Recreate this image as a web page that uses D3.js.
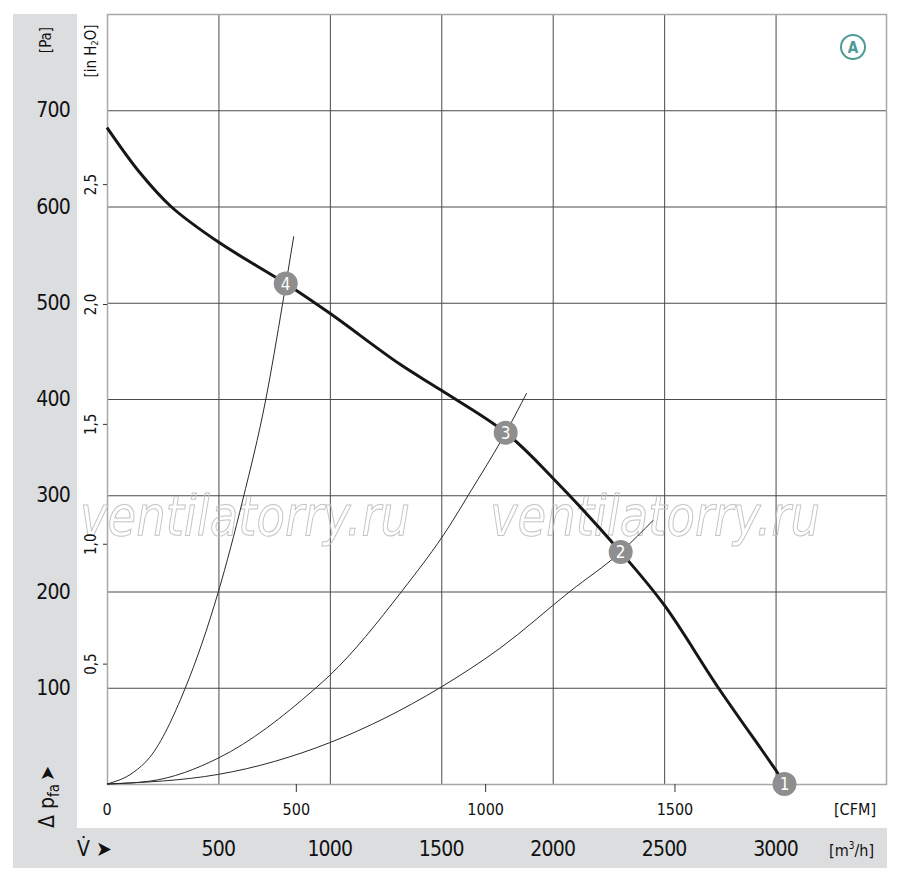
<!DOCTYPE html>
<meta charset="utf-8">
<style>
  body { margin: 0; background: #fff; }
  svg text { font-family: "Liberation Sans Narrow", "DejaVu Sans Condensed", "Roboto", sans-serif; fill: #111; }
</style>
<script src="https://d3js.org/d3.v7.min.js"></script>
<div id="chart"></div>
<script>

    // fan curve (flow in m3/h, pressure in Pa)
    var fanFlow     = [0, 148, 287, 500, 802, 1000, 1315, 1500, 1789, 2000, 2305, 2500, 2743, 3005, 3040];
    var fanPressure = [682, 635, 600, 563, 520, 489, 436, 409, 365, 318, 241, 186, 100, 13, 0];

    // system curves
    var sys4Flow = [0, 118, 193, 350, 500, 609, 712, 788, 838];
    var sys4P    = [0, 12, 28, 99, 200, 295, 399, 499, 569];
    var sys3Flow = [0, 193, 500, 933, 1000, 1322, 1539, 1621, 1789, 1883];
    var sys3P    = [0, 3, 27, 99, 113, 200, 269, 300, 365, 406];
    var sys2Flow = [0, 500, 1000, 1494, 1763, 2077, 2305, 2451];
    var sys2P    = [0, 10, 43, 100, 141, 200, 241, 274];

    // operating points
    var pointLabels = ["1", "2", "3", "4"];
    var pointFlow   = [3040, 2305, 1789, 802];
    var pointP      = [0, 241, 365, 520];

    // ticks
    var m3hTicks = [500, 1000, 1500, 2000, 2500, 3000];
    var paTicks  = [100, 200, 300, 400, 500, 600, 700];
    var cfmTicks = [0, 500, 1000, 1500];
    var inTicks  = [0.5, 1.0, 1.5, 2.0, 2.5];

    var W = 900, H = 883;
    var pL = 107, pR = 887, pT = 14, pB = 784;

    var svg = d3.select("#chart").append("svg")
        .attr("width", W)
        .attr("height", H);

    // grey bands
    svg.append("rect").attr("x", 13).attr("y", 14).attr("width", 64).attr("height", 854).attr("fill", "#dcdddf");
    svg.append("rect").attr("x", 13).attr("y", 828).attr("width", 874).attr("height", 40).attr("fill", "#dcdddf");

    var x = d3.scaleLinear().domain([0, 3500]).range([pL, pR]);
    var y = d3.scaleLinear().domain([0, 800]).range([pB, pT]);
    var xCfm = d3.scaleLinear().domain([0, 3500 / 1.69901]).range([pL, pR]);
    var yIn = d3.scaleLinear().domain([0, 800 / 249.089]).range([pB, pT]);

    // grid
    svg.append("g")
        .attr("transform", "translate(0," + pB + ")")
        .call(d3.axisBottom(x).tickValues(m3hTicks).tickSize(-(pB - pT)).tickFormat(""))
        .call(function(g) { g.select(".domain").remove(); })
        .selectAll("line").attr("stroke", "#4a4a4a");
    svg.append("g")
        .attr("transform", "translate(" + pL + ",0)")
        .call(d3.axisLeft(y).tickValues(paTicks).tickSize(-(pR - pL)).tickFormat(""))
        .call(function(g) { g.select(".domain").remove(); })
        .selectAll("line").attr("stroke", "#4a4a4a");

    // frame
    svg.append("rect")
        .attr("x", pL + 0.5).attr("y", pT + 0.5)
        .attr("width", pR - pL - 1).attr("height", pB - pT)
        .attr("fill", "none").attr("stroke", "#a8a8a8").attr("stroke-width", 1.5);

    // watermark
    [80, 490].forEach(function(wx) {
        svg.append("text")
            .attr("x", wx).attr("y", 535)
            .attr("textLength", 330).attr("lengthAdjust", "spacingAndGlyphs")
            .style("font-size", "56px").style("font-style", "italic")
            .style("fill", "none").style("stroke", "#c4c4c4").style("stroke-width", 1)
            .text("ventilatorry.ru");
    });

    // Pa labels
    svg.append("g").selectAll("text")
        .data(paTicks).enter().append("text")
        .attr("x", 70).attr("y", function(d) { return y(d); })
        .attr("text-anchor", "end").attr("dominant-baseline", "central")
        .style("font-size", "21px").style("letter-spacing", "-0.8px")
        .text(function(d) { return d; });

    svg.append("text")
        .attr("transform", "translate(46,40) rotate(-90)")
        .attr("text-anchor", "middle").attr("dominant-baseline", "central")
        .style("font-size", "15px")
        .text("[Pa]");

    // in H2O axis
    svg.append("g").selectAll("line")
        .data(inTicks).enter().append("line")
        .attr("x1", 103).attr("x2", pL)
        .attr("y1", function(d) { return yIn(d); }).attr("y2", function(d) { return yIn(d); })
        .attr("stroke", "#333");
    svg.append("g").selectAll("text")
        .data(inTicks).enter().append("text")
        .attr("transform", function(d) { return "translate(91," + yIn(d) + ") rotate(-90)"; })
        .attr("text-anchor", "middle").attr("dominant-baseline", "central")
        .style("font-size", "15px")
        .text(function(d) { return d.toFixed(1).replace(".", ","); });

    var inLabel = svg.append("text")
        .attr("transform", "translate(91,51) rotate(-90)")
        .attr("text-anchor", "middle").attr("dominant-baseline", "central")
        .style("font-size", "15px");
    inLabel.append("tspan").text("[in H");
    inLabel.append("tspan").attr("dy", 4).style("font-size", "9px").text("2");
    inLabel.append("tspan").attr("dy", -4).text("O]");

    // delta p label
    var dp = svg.append("text")
        .attr("transform", "translate(54,828) rotate(-90)")
        .style("font-size", "21px");
    dp.append("tspan").text("\u0394 p");
    dp.append("tspan").attr("dy", 5).style("font-size", "15px").text("fa");
    dp.append("tspan").attr("dy", -5).attr("dx", 3).style("font-size", "20px").text("\u27A4");

    // CFM axis
    svg.append("g").selectAll("line")
        .data(cfmTicks.filter(function(d) { return d > 0; })).enter().append("line")
        .attr("x1", function(d) { return xCfm(d); }).attr("x2", function(d) { return xCfm(d); })
        .attr("y1", pB).attr("y2", pB + 8)
        .attr("stroke", "#333");
    svg.append("g").selectAll("text")
        .data(cfmTicks).enter().append("text")
        .attr("x", function(d) { return xCfm(d); }).attr("y", 809)
        .attr("text-anchor", "middle").attr("dominant-baseline", "central")
        .style("font-size", "16px")
        .text(function(d) { return d; });
    svg.append("text")
        .attr("x", 876).attr("y", 809)
        .attr("text-anchor", "end").attr("dominant-baseline", "central")
        .style("font-size", "16px")
        .text("[CFM]");

    // m3/h axis
    svg.append("g").selectAll("text")
        .data(m3hTicks).enter().append("text")
        .attr("x", function(d) { return x(d); }).attr("y", 849)
        .attr("text-anchor", "middle").attr("dominant-baseline", "central")
        .style("font-size", "21px").style("letter-spacing", "-0.8px")
        .text(function(d) { return d; });
    var unit = svg.append("text")
        .attr("x", 874).attr("y", 850)
        .attr("text-anchor", "end").attr("dominant-baseline", "central")
        .style("font-size", "16px");
    unit.append("tspan").text("[m");
    unit.append("tspan").attr("dy", -5).style("font-size", "10px").text("3");
    unit.append("tspan").attr("dy", 5).text("/h]");

    svg.append("text")
        .attr("x", 77).attr("y", 849)
        .attr("dominant-baseline", "central")
        .style("font-size", "21px")
        .text("V\u0307 \u27A4");

    // curves
    var sysLine = d3.line()
        .x(function(d) { return x(d[0]); })
        .y(function(d) { return y(d[1]); })
        .curve(d3.curveMonotoneX);
    var fanLine = d3.line()
        .x(function(d) { return x(d[0]); })
        .y(function(d) { return y(d[1]); })
        .curve(d3.curveCatmullRom.alpha(0.5));

    [[sys4Flow, sys4P], [sys3Flow, sys3P], [sys2Flow, sys2P]].forEach(function(s) {
        svg.append("path")
            .datum(d3.zip(s[0], s[1]))
            .attr("d", sysLine)
            .attr("fill", "none")
            .attr("stroke", "#2a2a2a")
            .attr("stroke-width", 1);
    });

    svg.append("path")
        .datum(d3.zip(fanFlow, fanPressure))
        .attr("d", fanLine)
        .attr("fill", "none")
        .attr("stroke", "#161616")
        .attr("stroke-width", 3);

    // operating point markers
    var pts = svg.append("g").selectAll("g")
        .data(d3.zip(pointFlow, pointP, pointLabels)).enter().append("g")
        .attr("transform", function(d) { return "translate(" + x(d[0]) + "," + y(d[1]) + ")"; });
    pts.append("circle").attr("r", 12).attr("fill", "#8e8e8e");
    pts.append("text")
        .attr("text-anchor", "middle").attr("dominant-baseline", "central")
        .style("font-size", "17px").style("fill", "#fff")
        .text(function(d) { return d[2]; });

    // curve tag
    svg.append("circle")
        .attr("cx", 853).attr("cy", 47).attr("r", 12)
        .attr("fill", "none").attr("stroke", "#4b9a94").attr("stroke-width", 2);
    svg.append("text")
        .attr("x", 853).attr("y", 48)
        .attr("text-anchor", "middle").attr("dominant-baseline", "central")
        .style("font-size", "15px").style("font-weight", "bold").style("fill", "#4b9a94")
        .text("A");

</script>
